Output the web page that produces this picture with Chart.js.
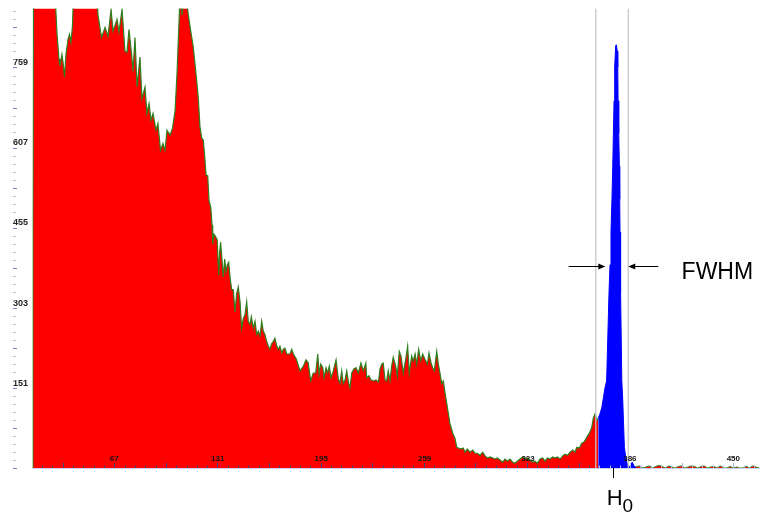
<!DOCTYPE html>
<html><head><meta charset="utf-8">
<script src="https://cdn.jsdelivr.net/npm/chart.js@4/dist/chart.umd.min.js"></script>
<style>html,body{margin:0;padding:0;background:#fff;}canvas{display:block;}</style>
</head><body>
<canvas id="c" width="760" height="517"></canvas>
<script>
// ---- data ----
const xTickLabels = [67, 131, 195, 259, 323, 386, 450];
const yTickLabels = [151, 303, 455, 607, 759];

const redChannels = [
  16.6,16.65,17.0,30.3,31.6,32.8,33.4,34.6,35.3,36.2,
  37.1,38.4,39.3,40.2,41.1,41.8,56.3,56.9,59.1,61.3,
  63.1,65.0,66.2,68.7,69.9,71.8,73.6,74.9,76.1,77.7,
  78.6,79.8,81.1,82.9,84.1,86.0,87.2,88.5,89.7,91.0,
  92.8,94.0,95.6,97.1,98.4,99.6,101.5,103.0,104.6,105.8,
  107.0,107.7,109.0,110.0,111.3,112.8,114.3,115.9,118.0,119.0,
  120.0,121.1,122.1,123.1,123.8,124.8,125.6,126.7,127.5,127.9,
  128.7,129.9,130.7,131.6,132.2,132.8,133.6,134.4,135.3,136.1,
  136.9,137.8,138.6,139.6,140.6,141.7,142.7,143.7,144.8,145.8,
  146.8,147.9,148.9,149.9,151.0,151.8,153.0,154.1,155.1,156.1,
  157.2,158.2,159.2,160.2,161.3,162.3,163.3,164.4,165.4,166.4,
  167.5,168.5,169.5,170.6,171.6,172.6,173.7,175.7,176.8,177.8,
  179.7,181.9,184.0,185.6,187.0,188.5,190.1,191.6,192.9,193.7,
  194.7,196.0,196.8,198.0,199.0,200.0,201.1,202.5,204.2,205.6,
  206.7,207.7,208.7,209.8,210.8,212.0,212.8,213.9,215.3,216.6,
  218.0,219.6,221.1,222.6,223.2,224.6,225.8,227.3,228.9,230.4,
  231.4,232.5,233.4,234.5,235.5,236.5,237.6,238.6,239.6,241.1,
  242.1,243.3,244.4,245.8,247.3,248.5,249.5,251.0,252.0,253.1,
  254.1,255.3,256.6,257.8,259.2,260.7,261.7,263.0,264.0,265.0,
  266.5,267.5,268.5,269.6,270.6,271.6,272.7,274.7,276.4,277.8,
  278.9,279.9,281.3,282.9,284.0,285.4,287.1,288.8,290.2,291.6,
  293.3,294.9,296.4,297.8,299.5,301.1,302.6,304.0,305.7,307.3,
  308.7,310.2,311.8,313.5,314.9,316.4,318.0,319.7,321.1,322.5,
  324.2,325.9,327.3,328.7,330.4,332.1,333.5,334.9,336.6,338.3,
  339.7,341.1,342.8,344.4,345.9,347.3,349.0,350.6,352.0,353.1,
  354.7,356.2,357.6,359.3,360.9,362.4,363.4,364.5,365.5,366.4
];
const redCounts = [
  0,452,900,900,822,775,762,784,769,741,
  784,813,822,807,837,900,900,859,816,835,
  818,869,828,850,826,869,790,788,831,784,
  752,816,722,779,700,722,672,691,659,672,
  640,653,602,615,602,640,631,644,677,747,
  841,900,858,900,900,859,828,797,734,700,
  647,625,621,584,555,554,507,494,460,424,
  443,437,432,366,409,428,396,362,396,372,
  385,390,362,338,338,296,330,343,315,265,
  283,291,315,278,272,287,265,278,253,259,
  250,278,259,253,240,231,225,236,240,246,
  231,225,231,218,225,227,216,216,225,216,
  206,184,193,205,199,165,180,180,216,178,
  197,190,171,190,180,193,171,184,205,169,
  161,184,160,167,184,161,152,180,188,190,
  180,199,184,199,171,175,167,165,167,163,
  188,197,199,167,165,184,165,193,210,193,
  175,221,212,180,206,231,180,212,203,216,
  197,225,203,216,206,197,218,199,190,184,
  221,197,180,160,165,143,122,84,66,56,
  39,38,36,38,30,36,30,34,28,28,
  24,30,23,19,21,19,17,19,15,11,
  17,13,17,11,9,13,17,21,17,19,
  15,11,13,9,17,19,13,19,17,21,
  19,21,17,23,26,24,30,34,30,39,
  38,47,49,58,66,77,95,103,90,94
];

const peakChannels = [
  366.4,367.5,368.6,369.6,370.6,371.6,373.1,373.7,374.3,374.9,
  375.4,375.8,376.2,376.6,377.2,377.6,378.2,378.5,378.7,379.1,
  379.5,379.7,379.9,380.1,380.4,381.0,381.6,382.0,382.6,383.5,
  384.5,386.2,387.4,388.6,389.8
];
const peakCounts = [
  94,103,114,133,152,165,334,385,447,509,
  572,634,696,760,800,802,790,760,696,634,
  572,509,447,385,334,165,128,90,39,19,
  6,2,11,4,0
];

const tailChannels = [
  388,390,392,394,396,398,400,402,404,406,
  408,410,412,414,416,418,420,422,424,426,
  428,430,432,434,436,438,440,442,444,446,
  448,450,452,454,456,458,460,462,464,466
];
const tailCounts = [
  0,3,4,0,2,4,0,3,5,3,
  0,4,2,0,3,4,0,2,4,3,
  0,3,4,0,2,3,0,4,0,0,
  3,0,2,0,0,3,0,4,2,0
];

const fwhmBounds = [364.9, 385.0];   // channels of the two grey markers
const h0Channel = 375.8;
const halfMaxLevel = 382;
const arrowLeft = [348.1, 370.8];
const arrowRight = [403.6, 385.0];
const fwhmLabelChannel = 418.0;

const X_MIN = 16.4, X_MAX = 466.5, Y_MAX = 871;

// ---- helpers ----
const pts = (xs, ys) => xs.map((x, i) => ({x: x, y: ys[i]}));
const vline = v => [{x: v, y: 0}, {x: v, y: Y_MAX}];
const yFont = {family: '"Liberation Sans", Arial, sans-serif', size: 9, weight: 'bold'};
const xFont = {family: '"Liberation Sans", Arial, sans-serif', size: 8, weight: 'bold'};

const decor = {
  id: 'decor',
  afterDraw(chart) {
    const {ctx, chartArea: a, scales: {x, y}} = chart;
    ctx.save();
    // y-axis tick marks
    const yStep = yTickLabels[yTickLabels.length - 1] / yTickLabels.length / 10;
    for (let i = 0; i * yStep <= Y_MAX; i++) {
      const py = Math.round(y.getPixelForValue(i * yStep));
      const major = i % 5 === 0;
      ctx.fillStyle = major ? '#6f86bb' : '#93a6d0';
      ctx.fillRect(major ? 13 : 13.5, py, major ? 4 : 2, 1);
    }
    // x-axis tick marks
    const x0 = xTickLabels[0];
    const xStep = (xTickLabels[xTickLabels.length - 1] - x0) / (xTickLabels.length - 1) / 10;
    const kmin = Math.ceil((X_MIN - x0) / xStep), kmax = Math.floor((X_MAX - x0) / xStep);
    for (let k = kmin; k <= kmax; k++) {
      const v = x0 + k * xStep;
      const px = Math.round(x.getPixelForValue(v)) + 0.5;
      const major = ((k % 5) + 5) % 5 === 0;
      ctx.strokeStyle = v < fwhmBounds[0] ? '#3b4573' : '#a9bce4';
      ctx.lineWidth = 1;
      ctx.beginPath();
      ctx.moveTo(px, a.bottom - (major ? 5 : 2.5));
      ctx.lineTo(px, a.bottom);
      ctx.stroke();
    }
    // H0 marker
    const hx = Math.round(x.getPixelForValue(h0Channel)) + 0.5;
    ctx.strokeStyle = '#000';
    ctx.beginPath(); ctx.moveTo(hx, a.bottom); ctx.lineTo(hx, a.bottom + 10); ctx.stroke();
    ctx.fillStyle = '#000';
    ctx.textBaseline = 'alphabetic';
    ctx.textAlign = 'left';
    ctx.font = '22px "Liberation Sans", Arial, sans-serif';
    ctx.fillText('H', hx - 6.7, 505);
    ctx.font = '19px "Liberation Sans", Arial, sans-serif';
    ctx.fillText('0', hx + 8.9, 511.7);
    // FWHM arrows
    const ay = Math.round(y.getPixelForValue(halfMaxLevel)) + 0.5;
    const arrow = (c0, c1) => {
      const p0 = x.getPixelForValue(c0), p1 = x.getPixelForValue(c1);
      const d = Math.sign(p1 - p0);
      ctx.beginPath(); ctx.moveTo(p0, ay); ctx.lineTo(p1 - d * 6, ay); ctx.stroke();
      ctx.beginPath(); ctx.moveTo(p1, ay); ctx.lineTo(p1 - d * 7, ay - 3); ctx.lineTo(p1 - d * 7, ay + 3); ctx.closePath(); ctx.fill();
    };
    arrow(arrowLeft[0], arrowLeft[1]);
    arrow(arrowRight[0], arrowRight[1]);
    ctx.font = '23px "Liberation Sans", Arial, sans-serif';
    ctx.fillText('FWHM', x.getPixelForValue(fwhmLabelChannel), ay + 12.5);
    ctx.restore();
  }
};

new Chart(document.getElementById('c'), {
  type: 'line',
  data: {
    datasets: [
      {data: vline(fwhmBounds[0]), borderColor: 'rgba(200,200,200,0.85)', borderWidth: 1.5, fill: false},
      {data: vline(fwhmBounds[1]), borderColor: 'rgba(200,200,200,0.85)', borderWidth: 1.5, fill: false},
      {data: pts(peakChannels, peakCounts), borderColor: '#0000ff', backgroundColor: '#0000ff', borderWidth: 1, fill: 'origin'},
      {data: pts(tailChannels, tailCounts), borderColor: '#3a8a2a', backgroundColor: '#ff0000', borderWidth: 1, fill: 'origin'},
      {data: pts(redChannels, redCounts), borderColor: '#2f7f1f', backgroundColor: '#ff0000', borderWidth: 1.2, fill: 'origin'}
    ]
  },
  options: {
    responsive: false,
    animation: false,
    devicePixelRatio: 1,
    events: [],
    layout: {padding: {left: 13, top: 4, right: 0, bottom: 0}},
    elements: {point: {radius: 0}, line: {tension: 0}},
    plugins: {legend: {display: false}, tooltip: {enabled: false}},
    scales: {
      x: {
        type: 'linear', position: 'bottom', min: X_MIN, max: X_MAX,
        afterBuildTicks: s => { s.ticks = xTickLabels.map(v => ({value: v})); },
        afterFit: s => { s.height = 49; },
        grid: {display: false, drawTicks: false},
        border: {display: true, color: '#c9d3ea', width: 1},
        ticks: {mirror: true, padding: 4, z: 1, autoSkip: false, maxRotation: 0, color: '#111', font: xFont,
                callback: v => String(v)}
      },
      y: {
        type: 'linear', min: 0, max: Y_MAX,
        afterBuildTicks: s => { s.ticks = yTickLabels.map(v => ({value: v})); },
        afterFit: s => { s.width = 19.5; },
        grid: {display: false},
        border: {display: false},
        ticks: {crossAlign: 'far', labelOffset: -5, z: 1, color: '#222', font: yFont,
                callback: v => String(v)}
      }
    }
  },
  plugins: [decor]
});
</script>
</body></html>
